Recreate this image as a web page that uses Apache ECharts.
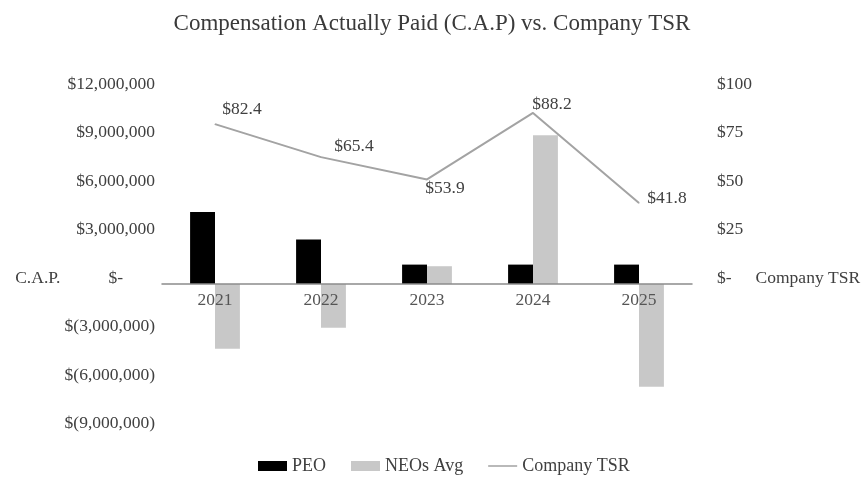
<!DOCTYPE html>
<html>
<head>
<meta charset="utf-8">
<script src="https://cdn.jsdelivr.net/npm/echarts@6/dist/echarts.min.js"></script>
<style>
  html, body { margin: 0; padding: 0; background: #fff; }
  #main { width: 864px; height: 477px; }
</style>
</head>
<body>
<div id="main"></div>
<script>
// data
var years = ['2021', '2022', '2023', '2024', '2025'];
var peoCap = [4450000, 2750000, 1200000, 1200000, 1200000];
var neoCap = [-4000000, -2700000, 1100000, 9200000, -6350000];
var tsr = [82.4, 65.4, 53.9, 88.2, 41.8];

// label nudges for the TSR values (centre offset from the point)
var tsrLabelShift = [[27, -15], [33, -11], [18, 9], [19, -8], [28, -5]];

var FONT = '"Liberation Serif", "DejaVu Serif", serif';
var TXT = '#404040';
var FS = 17.5;

function money(v) {
  var s = Math.abs(v).toLocaleString('en-US');
  return v < 0 ? '$(' + s + ')' : '$' + s;
}

var chart = echarts.init(document.getElementById('main'));

chart.setOption({
  animation: false,
  backgroundColor: '#fff',
  textStyle: { fontFamily: FONT, color: TXT },
  title: {
    text: 'Compensation Actually Paid (C.A.P) vs. Company TSR',
    left: 'center',
    top: 7,
    textStyle: { fontFamily: FONT, fontSize: 23, fontWeight: 'normal', color: '#3a3a3a' }
  },
  legend: {
    top: 452,
    left: 253,
    itemWidth: 29,
    itemHeight: 10,
    itemGap: 25,
    textStyle: { fontFamily: FONT, fontSize: 18, color: TXT },
    data: [
      { name: 'PEO', icon: 'rect' },
      { name: 'NEOs Avg', icon: 'rect' },
      { name: 'Company TSR', icon: 'path://M0,0L0.05,0L0,0.05Z M0,4.2L32,4.2L32,5.8L0,5.8Z M32,10L31.95,10L32,9.95Z' }
    ]
  },
  grid: { left: 162, right: 172, top: 90, bottom: 47.5 },
  xAxis: {
    type: 'category',
    data: years,
    z: 10,
    offset: -145.5,
    axisLine: { onZero: false, lineStyle: { color: '#8c8c8c', width: 1.5 } },
    axisTick: { show: false },
    axisLabel: { fontFamily: FONT, fontSize: FS, color: '#555', margin: 7 }
  },
  yAxis: [
    {
      type: 'value',
      min: -9000000,
      max: 12000000,
      interval: 3000000,
      splitLine: { show: false },
      axisLine: { show: false },
      axisTick: { show: false },
      axisLabel: {
        fontFamily: FONT, fontSize: FS, color: TXT, margin: 7,
        padding: [0, 0, 12, 0],
        formatter: function (v) {
          return v === 0 ? '{n|C.A.P.}{z|$-}' : money(v);
        },
        rich: {
          n: { fontFamily: FONT, fontSize: FS, color: TXT, padding: [0, 48, 0, 0] },
          z: { fontFamily: FONT, fontSize: FS, color: TXT, padding: [0, 32, 0, 0] }
        }
      }
    },
    {
      type: 'value',
      min: -75,
      max: 100,
      interval: 25,
      splitLine: { show: false },
      axisLine: { show: false },
      axisTick: { show: false },
      axisLabel: {
        fontFamily: FONT, fontSize: FS, color: TXT, margin: 25,
        padding: [0, 0, 12, 0],
        formatter: function (v) {
          if (v < 0) return '';
          return v === 0 ? '{z|$-}{n|Company TSR}' : '$' + v;
        },
        rich: {
          z: { fontFamily: FONT, fontSize: FS, color: TXT, padding: [0, 24, 0, 0] },
          n: { fontFamily: FONT, fontSize: FS, color: TXT }
        }
      }
    }
  ],
  series: [
    {
      name: 'PEO',
      type: 'bar',
      data: peoCap,
      barGap: '0%',
      barCategoryGap: '53%',
      itemStyle: { color: '#000' }
    },
    {
      name: 'NEOs Avg',
      type: 'bar',
      data: neoCap,
      itemStyle: { color: '#c8c8c8' }
    },
    {
      name: 'Company TSR',
      type: 'line',
      yAxisIndex: 1,
      z: 5,
      symbol: 'circle',
      symbolSize: 1,
      lineStyle: { color: '#a3a3a3', width: 2 },
      itemStyle: { color: '#a3a3a3' },
      data: tsr.map(function (v, i) {
        return {
          value: v,
          label: {
            show: true,
            position: 'inside',
            offset: tsrLabelShift[i],
            formatter: '$' + v.toFixed(1),
            fontFamily: FONT,
            fontSize: FS,
            color: TXT
          }
        };
      })
    }
  ]
});
</script>
</body>
</html>
